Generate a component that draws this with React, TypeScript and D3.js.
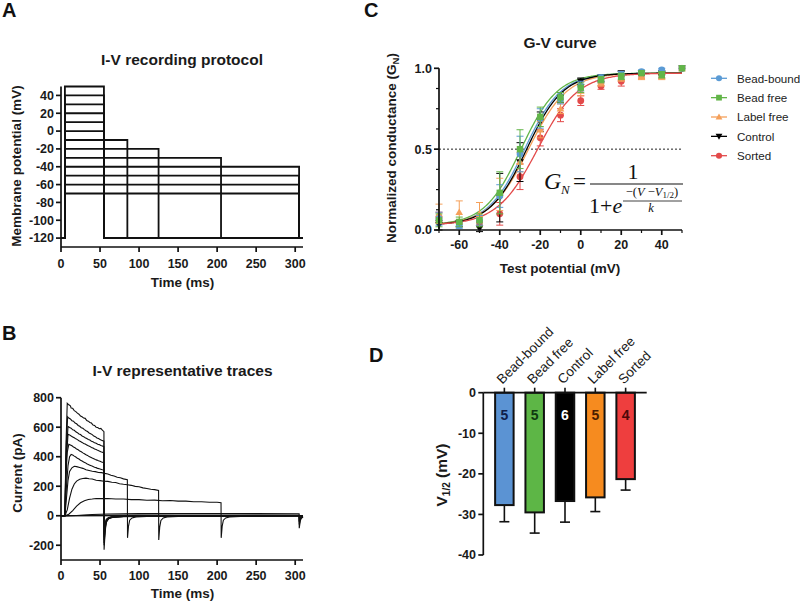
import React from "react";
import * as d3 from "d3";

const FONT = "Arial, 'Liberation Sans', Helvetica, sans-serif";
const SERIF = "'Times New Roman', 'Liberation Serif', serif";

// ---------- Panel A: protocol ----------
const stepVoltages = [50, 40, 30, 20, 10, 0, -10, -20, -30, -40, -50, -60, -70];
const stepEnds = [55, 55, 55, 55, 55, 55, 85, 125, 205, 305, 305, 305, 305];
const holdingV = -120;
const stepStart = 5;
const protocolEnd = 310;
const protoYTicks = [40, 20, 0, -20, -40, -60, -80, -100, -120];
const timeTicks = [0, 50, 100, 150, 200, 250, 300];

// ---------- Panel B: traces (t ms, I pA) ----------
const trace50 = [[0,0],[5,0],[6.5,500],[8,762],[10,752],[12,745],[13,730],[15,728],[17,712],[19,706],[21,695],[23,688],[25,676],[27,671],[29,662],[31,660],[33,645],[35,641],[37,632],[39,628],[41,615],[43,612],[45,600],[47,598],[49,590],[51,592],[53,580],[55,570],[55.2,-230],[56.5,-110],[58,-45],[61,-20],[66,-12],[80,-6],[120,-3],[200,-1],[310,0]];
const trace40 = [[0,0],[5,0],[6.5,450],[8.5,670],[10,662],[12,656],[14,644],[16,641],[18,628],[20,623],[22,612],[24,606],[26,597],[28,593],[30,584],[32,576],[34,571],[36,561],[38,556],[40,550],[42,540],[44,536],[46,527],[48,523],[50,517],[52,511],[55,505],[55.2,-200],[56.5,-95],[58,-40],[61,-18],[66,-10],[80,-5],[120,-2],[310,0]];
const trace30 = [[0,0],[5,0],[6.5,400],[9,605],[11,598],[13,593],[15,582],[17,579],[19,569],[21,563],[23,554],[25,550],[27,541],[29,536],[31,529],[33,523],[35,517],[37,513],[39,504],[41,501],[43,494],[45,491],[47,484],[49,482],[51,476],[53,473],[55,468],[55.2,-185],[56.5,-85],[58,-36],[61,-16],[66,-9],[80,-4],[120,-2],[310,0]];
const trace20 = [[0,0],[5,0],[6.5,350],[9,552],[11,548],[13,540],[15,534],[17,528],[19,521],[21,516],[23,508],[25,503],[27,497],[29,490],[31,486],[33,480],[35,474],[37,470],[39,463],[41,459],[43,452],[45,449],[47,443],[49,439],[51,434],[53,430],[55,425],[55.2,-165],[56.5,-78],[58,-32],[61,-15],[66,-8],[80,-4],[120,-2],[310,0]];
const trace10 = [[0,0],[5,0],[6.5,280],[8,430],[10,485],[12,480],[14,474],[16,466],[18,461],[20,452],[22,447],[24,438],[26,433],[28,426],[30,420],[32,413],[34,409],[36,401],[38,397],[40,391],[42,386],[44,381],[46,377],[48,372],[50,369],[52,364],[55,360],[55.2,-145],[56.5,-70],[58,-28],[61,-13],[66,-7],[80,-3],[120,-1],[310,0]];
const trace0 = [[0,0],[5,0],[7,200],[9,340],[11,400],[13,415],[15,412],[17,404],[19,398],[21,389],[23,384],[25,376],[27,371],[29,364],[31,360],[33,352],[35,348],[37,343],[39,338],[41,334],[43,329],[45,326],[47,321],[49,318],[51,315],[53,312],[55,310],[55.2,-125],[56.5,-60],[58,-25],[61,-12],[66,-6],[80,-3],[120,-1],[310,0]];
const traceM10 = [[0,0],[5,0],[7,120],[9,240],[11,300],[14,325],[17,335],[20,333],[24,327],[28,321],[32,311],[36,306],[40,301],[44,299],[48,293],[52,292],[56,287],[60,283],[64,274],[68,269],[72,261],[76,257],[80,250],[85,245],[85.2,-150],[86.5,-70],[88,-30],[91,-15],[96,-8],[110,-4],[150,-2],[310,0]];
const traceM20 = [[0,0],[5,0],[8,40],[11,120],[14,180],[17,215],[20,235],[24,247],[28,252],[32,255],[36,251],[40,249],[45,240],[50,238],[55,234],[60,233],[65,227],[70,225],[75,217],[80,213],[85,210],[90,206],[95,199],[100,196],[105,189],[110,185],[115,179],[120,177],[125,172],[125.2,-165],[126.5,-75],[128,-32],[131,-15],[136,-8],[150,-4],[200,-2],[310,0]];
const traceM30 = [[0,0],[5,0],[10,10],[15,35],[20,65],[25,88],[30,102],[35,110],[40,113],[45,117],[50,116],[60,117],[70,113],[80,113],[90,109],[100,109],[110,105],[120,106],[130,102],[140,103],[150,99],[160,99],[170,95],[180,95],[190,91],[200,91],[205,88],[205.2,-150],[206.5,-70],[208,-30],[211,-15],[216,-8],[230,-4],[270,-2],[310,0]];
const traceM40 = [[0,0],[5,0],[20,2],[40,8],[60,12],[100,14],[150,15],[200,15],[250,14],[305,13],[305.2,-85],[306.5,-35],[308,-15],[310,-8]];
const traceM50 = [[0,0],[5,0],[40,3],[100,5],[200,5],[305,5],[305.2,-60],[307,-20],[310,-8]];
const traceM60 = [[0,0],[5,0],[100,2],[305,2],[305.2,-40],[307,-12],[310,-5]];
const traceM70 = [[0,0],[305,0],[305.2,-25],[307,-8],[310,-3]];
const currentTraces = [trace50, trace40, trace30, trace20, trace10, trace0, traceM10, traceM20, traceM30, traceM40, traceM50, traceM60, traceM70];
const currentTicks = [800, 600, 400, 200, 0, -200];

// ---------- Panel C: G-V ----------
const testV = [-70, -60, -50, -40, -30, -20, -10, 0, 10, 20, 30, 40, 50];
const gvGroups = ["Bead-bound", "Bead free", "Label free", "Control", "Sorted"];
const gvColors = ["#5b9bd5", "#62b548", "#f5a05a", "#000000", "#e34a4a"];
const gvShapes = ["circle", "square", "triangle", "triangleDown", "circle"];
const beadBoundMean = [0.07, 0.03, 0.06, 0.21, 0.47, 0.69, 0.81, 0.89, 0.94, 0.96, 0.98, 0.99, 1.0];
const beadBoundSem = [0.04, 0.02, 0.03, 0.07, 0.11, 0.06, 0.03, 0.03, 0.02, 0.02, 0.01, 0.01, 0];
const beadFreeMean = [0.06, 0.05, 0.06, 0.23, 0.50, 0.70, 0.82, 0.88, 0.93, 0.95, 0.97, 0.96, 1.0];
const beadFreeSem = [0.04, 0.03, 0.04, 0.13, 0.12, 0.06, 0.03, 0.03, 0.02, 0.02, 0.01, 0.02, 0];
const labelFreeMean = [0.10, 0.11, 0.10, 0.22, 0.42, 0.62, 0.75, 0.86, 0.91, 0.94, 0.95, 0.95, 1.0];
const labelFreeSem = [0.06, 0.07, 0.07, 0.10, 0.06, 0.05, 0.03, 0.03, 0.02, 0.02, 0.02, 0.02, 0];
const controlMean = [0.03, 0.04, 0.01, 0.20, 0.42, 0.67, 0.82, 0.92, 0.94, 0.97, 0.97, 0.97, 1.0];
const controlSem = [0.03, 0.02, 0.02, 0.15, 0.12, 0.06, 0.03, 0.02, 0.02, 0.01, 0.01, 0.01, 0];
const sortedMean = [0.08, 0.04, 0.05, 0.10, 0.33, 0.57, 0.71, 0.80, 0.89, 0.92, 0.96, 0.96, 1.0];
const sortedSem = [0.03, 0.02, 0.03, 0.07, 0.08, 0.05, 0.04, 0.03, 0.02, 0.03, 0.02, 0.02, 0];
const gvMeans = [beadBoundMean, beadFreeMean, labelFreeMean, controlMean, sortedMean];
const gvSems = [beadBoundSem, beadFreeSem, labelFreeSem, controlSem, sortedSem];
const fitVhalf = [-27.7, -29.5, -25.8, -26.7, -21.3];
const fitK = [9, 9, 9.5, 9, 10];
const fitTop = 0.97;
const fitBottom = 0.03;
const gvXTicks = [-60, -40, -20, 0, 20, 40];
const gvXMinor = [-70, -50, -30, -10, 10, 30, 50];
const gvYTicks = [0, 0.5, 1.0];
const gvYMinor = [0.125, 0.25, 0.375, 0.625, 0.75, 0.875];

// ---------- Panel D: V1/2 bars ----------
const barCategories = ["Bead-bound", "Bead free", "Control", "Label free", "Sorted"];
const barValues = [-27.7, -29.5, -26.7, -25.8, -21.3];
const barSems = [4.1, 5.1, 5.2, 3.5, 2.7];
const barN = [5, 5, 6, 5, 4];
const barColors = ["#5b93d3", "#5db646", "#000000", "#f68b1f", "#ee3e3e"];
const barNColors = ["#10204a", "#103a10", "#ffffff", "#4a1e00", "#4a0808"];
const barYTicks = [0, -10, -20, -30, -40];

function Marker({ shape, x, y, color, s = 1 }: any) {
  if (shape === "circle") return <circle cx={x} cy={y} r={3.4 * s} fill={color} />;
  if (shape === "square") return <rect x={x - 3.2 * s} y={y - 3.2 * s} width={6.4 * s} height={6.4 * s} fill={color} />;
  if (shape === "triangle") {
    const h = 3.8 * s;
    return <path d={`M${x},${y - h} L${x + h},${y + h * 0.75} L${x - h},${y + h * 0.75} Z`} fill={color} />;
  }
  const h = 3.8 * s;
  return <path d={`M${x},${y + h} L${x + h},${y - h * 0.75} L${x - h},${y - h * 0.75} Z`} fill={color} />;
}

export default function App() {
  // A scales
  const xA = d3.scaleLinear().domain([0, 310]).range([61, 303]);
  const yA = d3.scaleLinear().domain([-130, 50]).range([247, 86.5]);
  // B scales
  const xB = d3.scaleLinear().domain([0, 310]).range([61, 303]);
  const yB = d3.scaleLinear().domain([-300, 800]).range([560, 397.7]);
  // C scales
  const xC = d3.scaleLinear().domain([-70, 50]).range([439, 682]);
  const yC = d3.scaleLinear().domain([0, 1]).range([230, 68.3]);
  // D scales
  const xD = d3.scaleBand().domain(barCategories).range([483.3, 646.7]).padding(0.39);
  const yD = d3.scaleLinear().domain([-40, 0]).range([555, 392.7]);

  const lineA = d3.line<number[]>().x((d) => xA(d[0])).y((d) => yA(d[1]));
  const lineB = d3.line<number[]>().x((d) => xB(d[0])).y((d) => yB(d[1]));
  const lineC = d3.line<number[]>().x((d) => xC(d[0])).y((d) => yC(d[1]));

  const fitV = d3.range(-70, 50.01, 0.5);

  const axisW = 1.7;
  const tickFont = { fontFamily: FONT, fontWeight: 700, fontSize: 12.5, fill: "#1a1a1a" } as any;
  const labelFont = { fontFamily: FONT, fontWeight: 700, fontSize: 13.5, fill: "#1a1a1a" } as any;
  const titleFont = { fontFamily: FONT, fontWeight: 700, fontSize: 15.5, fill: "#1a1a1a" } as any;
  const letterFont = { fontFamily: FONT, fontWeight: 700, fontSize: 20, fill: "#111" } as any;

  return (
    <svg width={800} height={602} style={{ display: "block", position: "absolute", left: 0, top: 0, background: "#fff" }}>
      <rect width={800} height={602} fill="#fff" />
      {/* Panel letters */}
      <text x={2} y={17} {...letterFont}>A</text>
      <text x={2} y={340} {...letterFont}>B</text>
      <text x={364} y={17} {...letterFont}>C</text>
      <text x={369} y={362} {...letterFont}>D</text>

      {/* ---------- Panel A ---------- */}
      <text x={182} y={65} textAnchor="middle" {...titleFont}>I-V recording protocol</text>
      {stepVoltages.map((v, i) => (
        <path key={i} d={lineA([[0, holdingV], [stepStart, holdingV], [stepStart, v], [stepEnds[i], v], [stepEnds[i], holdingV], [protocolEnd, holdingV]]) as string}
          fill="none" stroke="#111" strokeWidth={1.8} />
      ))}
      <line x1={xA(0)} x2={xA(0)} y1={yA(50)} y2={yA(-130)} stroke="#111" strokeWidth={axisW} />
      <line x1={xA(0)} x2={xA(310)} y1={yA(-130)} y2={yA(-130)} stroke="#111" strokeWidth={axisW} />
      {protoYTicks.map((t) => (
        <g key={t}>
          <line x1={xA(0) - 5} x2={xA(0)} y1={yA(t)} y2={yA(t)} stroke="#111" strokeWidth={axisW} />
          <text x={xA(0) - 7} y={yA(t) + 4.4} textAnchor="end" {...tickFont}>{t}</text>
        </g>
      ))}
      {timeTicks.map((t) => (
        <g key={t}>
          <line x1={xA(t)} x2={xA(t)} y1={yA(-130)} y2={yA(-130) + 5} stroke="#111" strokeWidth={axisW} />
          <text x={xA(t)} y={268} textAnchor="middle" {...tickFont}>{t}</text>
        </g>
      ))}
      <text x={182.5} y={287} textAnchor="middle" {...labelFont}>Time (ms)</text>
      <text transform="translate(21,166) rotate(-90)" textAnchor="middle" {...labelFont}>Membrane potential (mV)</text>

      {/* ---------- Panel B ---------- */}
      <text x={182.5} y={376} textAnchor="middle" {...titleFont}>I-V representative traces</text>
      {currentTraces.map((tr, i) => (
        <path key={i} d={lineB(tr) as string} fill="none" stroke="#111" strokeWidth={1.1} />
      ))}
      <line x1={xB(0)} x2={xB(0)} y1={yB(800)} y2={yB(-300)} stroke="#111" strokeWidth={axisW} />
      <line x1={xB(0)} x2={xB(310)} y1={yB(-300)} y2={yB(-300)} stroke="#111" strokeWidth={axisW} />
      {currentTicks.map((t) => (
        <g key={t}>
          <line x1={xB(0) - 5} x2={xB(0)} y1={yB(t)} y2={yB(t)} stroke="#111" strokeWidth={axisW} />
          <text x={xB(0) - 7} y={yB(t) + 4.4} textAnchor="end" {...tickFont}>{t}</text>
        </g>
      ))}
      {timeTicks.map((t) => (
        <g key={t}>
          <line x1={xB(t)} x2={xB(t)} y1={yB(-300)} y2={yB(-300) + 5} stroke="#111" strokeWidth={axisW} />
          <text x={xB(t)} y={580} textAnchor="middle" {...tickFont}>{t}</text>
        </g>
      ))}
      <text x={182.5} y={598} textAnchor="middle" {...labelFont}>Time (ms)</text>
      <text transform="translate(22,473) rotate(-90)" textAnchor="middle" {...labelFont}>Current (pA)</text>

      {/* ---------- Panel C ---------- */}
      <text x={560} y={48} textAnchor="middle" {...titleFont}>G-V curve</text>
      <line x1={xC(-70)} x2={xC(50)} y1={yC(0.5)} y2={yC(0.5)} stroke="#222" strokeWidth={1} strokeDasharray="2,2" />
      {gvGroups.map((g, gi) => (
        <path key={"fit" + gi}
          d={lineC(fitV.map((v) => [v, fitBottom + (fitTop - fitBottom) / (1 + Math.exp(-(v - fitVhalf[gi]) / fitK[gi]))])) as string}
          fill="none" stroke={gvColors[gi]} strokeWidth={1.3} />
      ))}
      {[4, 3, 2, 0, 1].map((gi) => (
        <g key={"pts" + gi}>
          {testV.map((v, i) => {
            const m = gvMeans[gi][i];
            const s = gvSems[gi][i];
            const x = xC(v);
            return (
              <g key={i}>
                {s > 0 && (
                  <g stroke={gvColors[gi]} strokeWidth={1}>
                    <line x1={x} x2={x} y1={yC(m - s)} y2={yC(m + s)} />
                    <line x1={x - 3.5} x2={x + 3.5} y1={yC(m + s)} y2={yC(m + s)} />
                    <line x1={x - 3.5} x2={x + 3.5} y1={yC(m - s)} y2={yC(m - s)} />
                  </g>
                )}
                <Marker shape={gvShapes[gi]} x={x} y={yC(m)} color={gvColors[gi]} />
              </g>
            );
          })}
        </g>
      ))}
      <line x1={xC(-70)} x2={xC(-70)} y1={yC(1)} y2={yC(0)} stroke="#111" strokeWidth={axisW} />
      <line x1={xC(-70)} x2={xC(50)} y1={yC(0)} y2={yC(0)} stroke="#111" strokeWidth={axisW} />
      {gvYTicks.map((t) => (
        <g key={t}>
          <line x1={xC(-70) - 5} x2={xC(-70)} y1={yC(t)} y2={yC(t)} stroke="#111" strokeWidth={axisW} />
          <text x={xC(-70) - 7} y={yC(t) + 4.4} textAnchor="end" {...tickFont}>{t.toFixed(1)}</text>
        </g>
      ))}
      {gvYMinor.map((t) => (
        <line key={t} x1={xC(-70) - 3} x2={xC(-70)} y1={yC(t)} y2={yC(t)} stroke="#111" strokeWidth={1.2} />
      ))}
      {gvXTicks.map((t) => (
        <g key={t}>
          <line x1={xC(t)} x2={xC(t)} y1={yC(0)} y2={yC(0) + 5} stroke="#111" strokeWidth={axisW} />
          <text x={xC(t)} y={248.5} textAnchor="middle" {...tickFont}>{t}</text>
        </g>
      ))}
      {gvXMinor.map((t) => (
        <line key={t} x1={xC(t)} x2={xC(t)} y1={yC(0)} y2={yC(0) + 3} stroke="#111" strokeWidth={1.2} />
      ))}
      <text x={560} y={273} textAnchor="middle" {...labelFont}>Test potential (mV)</text>
      <text transform="translate(396,148) rotate(-90)" textAnchor="middle" {...labelFont}>
        Normalized conductance (G<tspan fontSize={9.5} dy={3}>N</tspan><tspan dy={-3}>)</tspan>
      </text>
      {/* Equation */}
      <g fontFamily={SERIF} fill="#111">
        <text x={544} y={189} fontSize={24} fontStyle="italic">G</text>
        <text x={561} y={194} fontSize={13} fontStyle="italic">N</text>
        <text x={573} y={189} fontSize={23}>=</text>
        <line x1={590} x2={683} y1={184} y2={184} stroke="#111" strokeWidth={1.1} />
        <text x={633} y={179} fontSize={22} textAnchor="middle">1</text>
        <text x={589} y={213} fontSize={22}>1+<tspan fontStyle="italic">e</tspan></text>
        <text x={652} y={196} fontSize={12.5} textAnchor="middle">−(<tspan fontStyle="italic">V</tspan> −<tspan fontStyle="italic">V</tspan><tspan fontSize={9} dy={2}>1/2</tspan><tspan dy={-2}>)</tspan></text>
        <line x1={623} x2={682} y1={201} y2={201} stroke="#111" strokeWidth={0.8} />
        <text x={651} y={212} fontSize={12.5} fontStyle="italic" textAnchor="middle">k</text>
      </g>
      {/* Legend */}
      {gvGroups.map((g, gi) => {
        const y = 78.3 + gi * 19.35;
        return (
          <g key={"leg" + gi}>
            <line x1={711} x2={727} y1={y} y2={y} stroke={gvColors[gi]} strokeWidth={1.3} />
            <Marker shape={gvShapes[gi]} x={719} y={y} color={gvColors[gi]} s={0.9} />
            <text x={737} y={y + 4.3} fontFamily={FONT} fontSize={11.6} fill="#222">{g}</text>
          </g>
        );
      })}

      {/* ---------- Panel D ---------- */}
      {barCategories.map((c, i) => {
        const x0 = xD(c) as number;
        const bw = xD.bandwidth();
        const cx = x0 + bw / 2;
        const v = barValues[i];
        return (
          <g key={c}>
            <line x1={cx} x2={cx} y1={yD(v)} y2={yD(v - barSems[i])} stroke="#111" strokeWidth={1.6} />
            <line x1={cx - 5} x2={cx + 5} y1={yD(v - barSems[i])} y2={yD(v - barSems[i])} stroke="#111" strokeWidth={1.6} />
            <rect x={x0} y={yD(0)} width={bw} height={yD(v) - yD(0)} fill={barColors[i]} stroke="#111" strokeWidth={2} />
            <text x={cx} y={420} textAnchor="middle" fontFamily={FONT} fontWeight={700} fontSize={14} fill={barNColors[i]}>{barN[i]}</text>
            <line x1={cx} x2={cx} y1={yD(0) - 5} y2={yD(0)} stroke="#111" strokeWidth={1.6} />
            <text transform={`translate(${cx - 2},${yD(0) - 8}) rotate(-45)`} fontFamily={FONT} fontSize={13.5} fill="#1a1a1a">{c}</text>
          </g>
        );
      })}
      <line x1={483.3} x2={646.7} y1={yD(0)} y2={yD(0)} stroke="#111" strokeWidth={axisW} />
      <line x1={483.3} x2={483.3} y1={yD(0)} y2={yD(-40)} stroke="#111" strokeWidth={axisW} />
      {barYTicks.map((t) => (
        <g key={t}>
          <line x1={483.3 - 5} x2={483.3} y1={yD(t)} y2={yD(t)} stroke="#111" strokeWidth={axisW} />
          <text x={476} y={yD(t) + 4.4} textAnchor="end" {...tickFont}>{t}</text>
        </g>
      ))}
      <text transform="translate(447,475) rotate(-90)" textAnchor="middle" fontFamily={FONT} fontWeight={700} fontSize={15.5} fill="#1a1a1a">
        V<tspan fontSize={10} dy={3}>1/2</tspan><tspan dy={-3}> (mV)</tspan>
      </text>
    </svg>
  );
}
